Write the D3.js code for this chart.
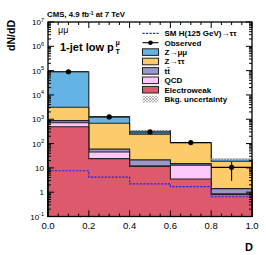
<!DOCTYPE html>
<html><head><meta charset="utf-8">
<script src="https://cdn.jsdelivr.net/npm/d3@7"></script>
<style>body{margin:0;background:#fff}svg{display:block}text{font-family:"Liberation Sans",Arial,Helvetica,sans-serif}</style>
</head><body><svg id="c" width="266" height="255"></svg>
<script>
// ---- data ----
const binEdges=[0,0.2,0.4,0.6,0.8,1.0];
const ewk=[490,24,11.5,3.5,0.8];
const qcd=[230,21,0.3,9.5,0.05];
const ttbar=[160,14,9.5,2,0.55];
const ztt=[2220,621,224,90,17.4];
const zmm=[86900,570,100,3,3.7];
const higgs=[7.6,4.2,2.2,1.7,0.65];
const observed=[90000,1250,300,110,10.5];
const obsLow=[89700,1215,283,100,2.95];
const obsHigh=[90300,1285,317,121,17.4];
const bkgUncFrac=0.06;
const yTickVals=[0.1,1,10,1e2,1e3,1e4,1e5,1e6,1e7];
const yTickBase=["10","1","10","10","10","10","10","10","10"];
const yTickExp=["-1","","","2","3","4","5","6","7"];
const xTickVals=[0,0.2,0.4,0.6,0.8,1.0];
const xTickLabels=["0.0","0.2","0.4","0.6","0.8","1.0"];
const legendLabels=["SM H(125 GeV)\u2192\u03c4\u03c4","Observed","Z\u2192\u03bc\u03bc","Z\u2192\u03c4\u03c4","tt\u0304","QCD","Electroweak","Bkg. uncertainty"];

const colors={zmm:"#63b4e4",ztt:"#fdcb6a",tt:"#9a98c8",qcd:"#fcc8f8",ewk:"#dd5a6c",higgs:"#2222ee"};

const svg=d3.select("#c");
const x=d3.scaleLinear().domain([0,1]).range([48,252]);
const y=d3.scaleLog().domain([0.1,1e7]).range([216.5,22]);

const defs=svg.append("defs");
const pat=defs.append("pattern").attr("id","hatch").attr("patternUnits","userSpaceOnUse").attr("width",3).attr("height",3);
pat.append("rect").attr("width",3).attr("height",3).attr("fill","#fff");
pat.append("path").attr("d","M0,3 L3,0 M0,0 L3,3").attr("stroke","#888").attr("stroke-width",0.6);

// cumulative stack (bottom -> top): ewk, qcd, ttbar, ztt, zmm
const comps=[["ewk",ewk],["qcd",qcd],["tt",ttbar],["ztt",ztt],["zmm",zmm]];
const cum=[];let run=[0,0,0,0,0];
comps.forEach(([k,v])=>{run=run.map((r,i)=>r+v[i]);cum.push([k,run.slice()]);});

function stepPath(vals){
  let p="";
  vals.forEach((v,i)=>{
    const x0=x(binEdges[i]),x1=x(binEdges[i+1]),yy=y(Math.max(v,0.1));
    p+=(i===0?`M${x0},${y(0.1)}L${x0},${yy}`:`L${x0},${yy}`)+`L${x1},${yy}`;
  });
  return p;
}
const plot=svg.append("g");
for(let j=cum.length-1;j>=0;j--){
  const [k,vals]=cum[j];
  plot.append("path").attr("d",stepPath(vals)+`L${x(1)},${y(0.1)}Z`)
    .attr("fill",colors[k]).attr("stroke","#222").attr("stroke-width",1.1);
}
// bkg uncertainty band
const total=cum[cum.length-1][1];
total.forEach((t,i)=>{
  plot.append("rect").attr("x",x(binEdges[i])).attr("width",x(binEdges[i+1])-x(binEdges[i]))
    .attr("y",y(t*(1+bkgUncFrac))).attr("height",y(t*(1-bkgUncFrac))-y(t*(1+bkgUncFrac)))
    .attr("fill","url(#hatch)").attr("opacity",0.7);
});
// higgs dashed
let hp="";
higgs.forEach((v,i)=>{const x0=x(binEdges[i]),x1=x(binEdges[i+1]);hp+=(i===0?`M${x0},${y(v)}`:`L${x0},${y(v)}`)+`L${x1},${y(v)}`;});
plot.append("path").attr("d",hp).attr("fill","none").attr("stroke",colors.higgs).attr("stroke-width",1.2).attr("stroke-dasharray","2.2,1.3");
// observed
observed.forEach((v,i)=>{
  const xc=x((binEdges[i]+binEdges[i+1])/2);
  plot.append("line").attr("x1",x(binEdges[i])).attr("x2",x(binEdges[i+1])).attr("y1",y(v)).attr("y2",y(v)).attr("stroke","#000").attr("stroke-width",1.1);
  plot.append("line").attr("x1",xc).attr("x2",xc).attr("y1",y(obsLow[i])).attr("y2",y(obsHigh[i])).attr("stroke","#000").attr("stroke-width",1.1);
  plot.append("circle").attr("cx",xc).attr("cy",y(v)).attr("r",2.6).attr("fill","#000");
});

// frame
svg.append("rect").attr("x",48).attr("y",22).attr("width",204).attr("height",194.5).attr("fill","none").attr("stroke","#000").attr("stroke-width",1.3);

// y ticks (log, major + minor), left and right, inward
const ax=svg.append("g").attr("stroke","#000").attr("stroke-width",1);
for(let e=-1;e<=7;e++){
  for(let m=1;m<=9;m++){
    const v=m*Math.pow(10,e); if(v>1e7) break;
    const len=(m===1)?6:3; const yy=y(v);
    ax.append("line").attr("x1",48).attr("x2",48+len).attr("y1",yy).attr("y2",yy);
    ax.append("line").attr("x1",252).attr("x2",252-len).attr("y1",yy).attr("y2",yy);
  }
}
// x ticks
for(let k=0;k<=20;k++){
  const v=k*0.05; const len=(k%4===0)?6:3; const xx=x(v);
  ax.append("line").attr("x1",xx).attr("x2",xx).attr("y1",216.5).attr("y2",216.5-len);
  ax.append("line").attr("x1",xx).attr("x2",xx).attr("y1",22).attr("y2",22+len);
}
// y tick labels
yTickVals.forEach((v,i)=>{
  const t=svg.append("text").attr("x",44).attr("y",y(v)+3).attr("text-anchor","end").attr("font-size",8);
  t.append("tspan").text(yTickBase[i]);
  if(yTickExp[i]) t.append("tspan").attr("dy",-3.5).attr("font-size",5.5).text(yTickExp[i]);
});
// x tick labels
xTickVals.forEach((v,i)=>{
  svg.append("text").attr("x",x(v)).attr("y",229).attr("text-anchor","middle").attr("font-size",9.5).text(xTickLabels[i]);
});
// axis titles
svg.append("text").attr("x",253).attr("y",251).attr("text-anchor","end").attr("font-size",11).attr("font-weight","bold").text("D");
svg.append("text").attr("transform","translate(14.5,20) rotate(-90)").attr("text-anchor","end").attr("font-size",10.5).attr("font-weight","bold").text("dN/dD");
// header
const hdr=svg.append("text").attr("x",47).attr("y",17).attr("font-size",7.8).attr("font-weight","bold");
hdr.append("tspan").text("CMS, 4.9 fb");
hdr.append("tspan").attr("dy",-2.5).attr("font-size",5).text("-1");
hdr.append("tspan").attr("dy",2.5).text(" at 7 TeV");
svg.append("text").attr("x",58).attr("y",33).attr("font-size",9).text("\u03bc\u03bc");
const lab=svg.append("text").attr("x",60).attr("y",50.5).attr("font-size",11).attr("font-weight","bold");
lab.append("tspan").text("1-jet low p");
lab.append("tspan").attr("x",115.5).attr("dy",3).attr("font-size",7).text("T");
lab.append("tspan").attr("x",115.5).attr("dy",-9).attr("font-size",7).text("\u03bc");

// legend
const lg=svg.append("g");
const ly0=33.3, ldy=9.4, lx0=142.5, lx1=158.5, ltx=164.5;
legendLabels.forEach((txt,i)=>{
  const yy=ly0+i*ldy;
  if(i===0){
    lg.append("line").attr("x1",lx0).attr("x2",lx1).attr("y1",yy).attr("y2",yy).attr("stroke",colors.higgs).attr("stroke-width",1.2).attr("stroke-dasharray","2.2,1.3");
  } else if(i===1){
    lg.append("line").attr("x1",lx0).attr("x2",lx1).attr("y1",yy).attr("y2",yy).attr("stroke","#000").attr("stroke-width",1.1);
    lg.append("circle").attr("cx",(lx0+lx1)/2).attr("cy",yy).attr("r",2.3).attr("fill","#000");
  } else {
    const fills=[null,null,colors.zmm,colors.ztt,colors.tt,colors.qcd,colors.ewk,"url(#hatch)"];
    lg.append("rect").attr("x",lx0).attr("y",yy-3.3).attr("width",lx1-lx0).attr("height",6.6)
      .attr("fill",fills[i]).attr("stroke",i===7?"none":"#222").attr("stroke-width",1);
  }
  lg.append("text").attr("x",ltx).attr("y",yy+2.9).attr("font-size",8).attr("font-weight","bold").text(txt);
});
</script></body></html>
